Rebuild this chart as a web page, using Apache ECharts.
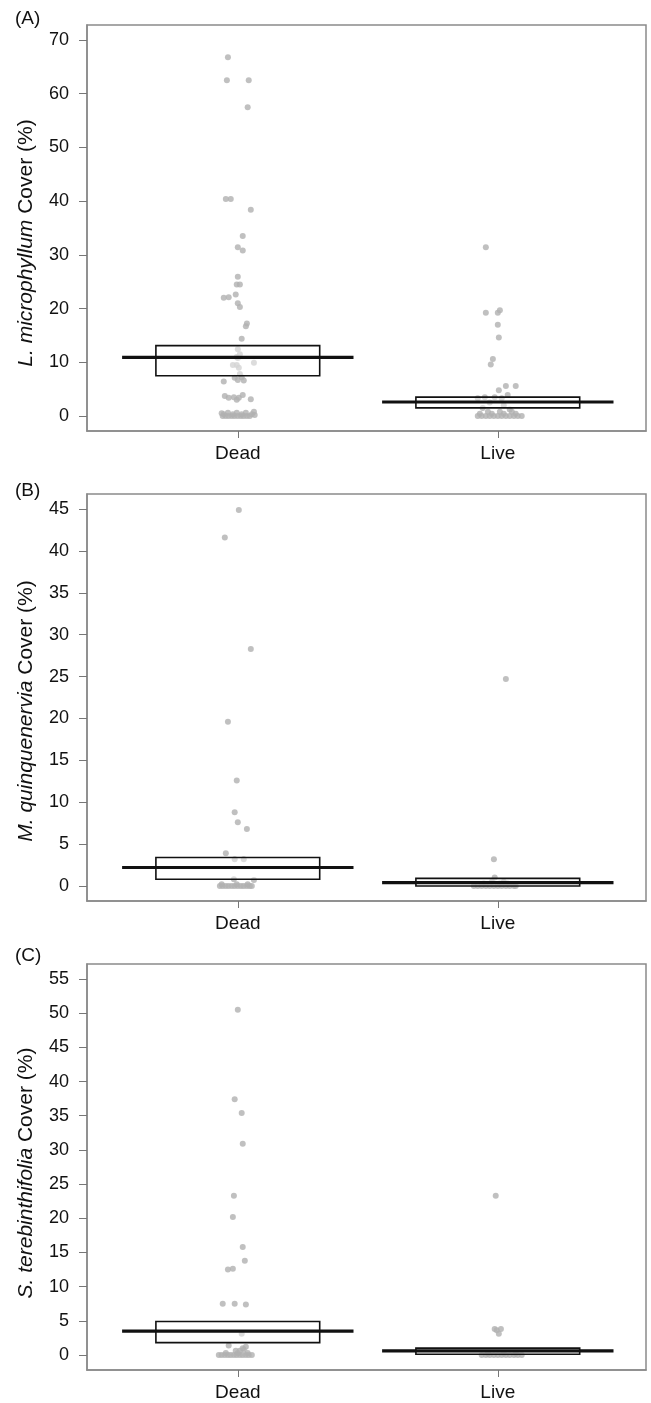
<!DOCTYPE html>
<html>
<head>
<meta charset="utf-8">
<script src="https://cdn.jsdelivr.net/npm/echarts@6/dist/echarts.min.js"></script>
<style>
  html, body { margin: 0; padding: 0; background: #fff; }
  #chart { width: 651px; height: 1403px; }
</style>
</head>
<body>
<div id="chart"></div>
<script>
// groups on the x axis (Dead = 1, Live = 2)
var groups = ["Dead", "Live"]

// (A) L. microphyllum cover (%)
var deadA = [66.8, 62.5, 62.5, 57.5, 40.4, 40.4, 38.4, 33.5, 31.4, 30.8, 25.9, 24.5, 24.5, 22.0, 22.1, 22.6, 21.0, 20.3, 17.2, 16.7, 14.4, 12.4, 11.5, 11.0, 10.8, 9.9, 9.5, 9.5, 9.0, 7.8, 7.1, 7.2, 6.7, 6.6, 6.4, 3.7, 3.4, 3.4, 3.9, 3.1, 3.0, 3.5,
  0, 0, 0, 0, 0, 0, 0, 0, 0, 0, 0.3, 0.3, 0.3, 0.3, 0.6, 0.6, 0.6, 0.8, 0.5, 0.2]
var deadAJitter = [-0.038, -0.042, 0.042, 0.038, -0.046, -0.027, 0.05, 0.019, 0, 0.019, 0, -0.004, 0.008, -0.054, -0.035, -0.008, 0, 0.008, 0.035, 0.031, 0.015, 0, 0.008, -0.004, 0, 0.062, -0.019, -0.004, 0.004, 0.008, -0.012, 0.015, 0, 0.023, -0.054, -0.05, -0.035, 0.004, 0.019, 0.05, -0.004, -0.015,
  -0.058, -0.046, -0.035, -0.023, -0.012, 0, 0.012, 0.023, 0.035, 0.046, -0.054, -0.019, 0.015, 0.054, -0.038, -0.004, 0.031, 0.062, -0.062, 0.065]
var liveA = [31.4, 19.2, 19.2, 19.7, 17.0, 14.6, 10.6, 9.6, 5.6, 5.6, 4.8, 3.9, 3.3, 3.5, 3.5, 3.3, 2.5, 2.0, 1.5, 1.2,
  0, 0, 0, 0, 0, 0, 0, 0, 0, 0, 0, 0, 0.4, 0.4, 0.4, 0.4, 0.8, 0.8, 0.8]
var liveAJitter = [-0.046, -0.046, 0, 0.008, 0, 0.004, -0.019, -0.027, 0.031, 0.069, 0.004, 0.038, -0.077, -0.05, -0.012, 0.015, -0.031, 0.023, -0.058, 0.046,
  -0.077, -0.062, -0.046, -0.031, -0.015, 0, 0.015, 0.031, 0.046, 0.062, 0.077, 0.092, -0.069, -0.023, 0.023, 0.069, -0.038, 0.008, 0.054]
// box (lower, upper) and mean line, Dead then Live
var boxA = [[7.5, 13.1], [1.5, 3.5]]
var meanA = [10.9, 2.6]

// (B) M. quinquenervia cover (%)
var deadB = [44.9, 41.6, 28.3, 19.6, 12.6, 8.8, 7.6, 6.8, 3.9, 3.2, 3.2, 0.8, 0.7,
  0, 0, 0, 0, 0, 0, 0, 0, 0, 0, 0, 0, 0.2, 0.2, 0.2]
var deadBJitter = [0.004, -0.05, 0.05, -0.038, -0.004, -0.012, 0, 0.035, -0.046, -0.012, 0.023, -0.015, 0.062,
  -0.069, -0.058, -0.046, -0.035, -0.023, -0.012, 0, 0.012, 0.023, 0.035, 0.046, 0.054, -0.062, -0.004, 0.038]
var liveB = [24.7, 3.2, 1.0,
  0, 0, 0, 0, 0, 0, 0, 0, 0, 0, 0, 0, 0.3, 0.3, 0.3, 0.5, 0.5]
var liveBJitter = [0.031, -0.015, -0.012,
  -0.092, -0.077, -0.062, -0.046, -0.031, -0.015, 0, 0.015, 0.031, 0.046, 0.062, 0.069, -0.054, 0.008, 0.038, -0.023, 0.023]
var boxB = [[0.8, 3.4], [0.0, 0.9]]
var meanB = [2.2, 0.4]

// (C) S. terebinthifolia cover (%)
var deadC = [50.5, 37.4, 35.4, 30.9, 23.3, 20.2, 15.8, 13.8, 12.5, 12.6, 7.5, 7.5, 7.4, 3.1, 1.4, 1.0, 0.6, 0.6,
  0, 0, 0, 0, 0, 0, 0, 0, 0, 0, 0, 0, 0.3, 0.3, 0.3, 0.8, 1.2]
var deadCJitter = [0, -0.012, 0.015, 0.019, -0.015, -0.019, 0.019, 0.027, -0.038, -0.019, -0.058, -0.012, 0.031, 0.015, -0.035, 0.019, -0.008, 0.008,
  -0.073, -0.062, -0.05, -0.038, -0.027, -0.015, -0.004, 0.008, 0.019, 0.031, 0.042, 0.054, -0.046, 0, 0.038, 0.023, 0.031]
var liveC = [23.3, 3.8, 3.8, 3.1, 3.6,
  0, 0, 0, 0, 0, 0, 0, 0, 0, 0, 0, 0.2, 0.2, 0.2]
var liveCJitter = [-0.008, -0.012, 0.012, 0.004, -0.004,
  -0.062, -0.046, -0.031, -0.015, 0, 0.015, 0.031, 0.046, 0.062, 0.077, 0.092, -0.038, 0.023, 0.069]
var boxC = [[1.8, 4.9], [0.1, 1.0]]
var meanC = [3.5, 0.6]

// y axis ranges and ticks
var yMinA = -2.8, yMaxA = 72.8
var yMinB = -1.8, yMaxB = 46.8
var yMinC = -2.2, yMaxC = 57.2
var ticksA = [0, 10, 20, 30, 40, 50, 60, 70]
var ticksB = [0, 5, 10, 15, 20, 25, 30, 35, 40, 45]
var ticksC = [0, 5, 10, 15, 20, 25, 30, 35, 40, 45, 50, 55]

var panelLabels = ["(A)", "(B)", "(C)"]
var speciesNames = ["L. microphyllum", "M. quinquenervia", "S. terebinthifolia"]

var BOX_HALF = 0.315
var MEAN_HALF = 0.445
var FONT = "'Liberation Sans', Arial, sans-serif"

function points(values, jitter, g) {
  return values.map(function (v, i) { return [g + jitter[i], v] })
}

function boxSeries(idx, box) {
  return {
    type: "custom",
    xAxisIndex: idx,
    yAxisIndex: idx,
    z: 3,
    data: box.map(function (b, i) { return [i + 1, b[0], b[1]] }),
    encode: { x: 0, y: [1, 2] },
    renderItem: function (params, api) {
      var x = api.value(0)
      var p1 = api.coord([x - BOX_HALF, api.value(2)])
      var p2 = api.coord([x + BOX_HALF, api.value(1)])
      return {
        type: "rect",
        shape: { x: p1[0], y: p1[1], width: p2[0] - p1[0], height: p2[1] - p1[1] },
        style: { fill: "rgba(255,255,255,0.45)", stroke: "#111", lineWidth: 1.6 }
      }
    }
  }
}

function meanSeries(idx, mean) {
  return {
    type: "custom",
    xAxisIndex: idx,
    yAxisIndex: idx,
    z: 4,
    data: mean.map(function (m, i) { return [i + 1, m] }),
    encode: { x: 0, y: 1 },
    renderItem: function (params, api) {
      var x = api.value(0)
      var p1 = api.coord([x - MEAN_HALF, api.value(1)])
      var p2 = api.coord([x + MEAN_HALF, api.value(1)])
      return {
        type: "line",
        shape: { x1: p1[0], y1: p1[1], x2: p2[0], y2: p2[1] },
        style: { stroke: "#111", lineWidth: 3.2 }
      }
    }
  }
}

function scatterSeries(idx, data) {
  return {
    type: "scatter",
    xAxisIndex: idx,
    yAxisIndex: idx,
    z: 2,
    symbolSize: 6,
    itemStyle: { color: "#b0b0b0" },
    data: data
  }
}

function xAxis(idx) {
  return {
    gridIndex: idx,
    type: "value",
    min: 0.42,
    max: 2.57,
    splitLine: { show: false },
    axisLine: { show: true, onZero: false, lineStyle: { color: "#8a8a8a", width: 1.5 } },
    axisTick: { length: 7, lineStyle: { color: "#777" }, customValues: [1, 2] },
    axisLabel: {
      customValues: [1, 2],
      margin: 13,
      color: "#111",
      fontSize: 19,
      fontFamily: FONT,
      formatter: function (v) { return groups[Math.round(v) - 1] || "" }
    }
  }
}

function yAxis(idx, min, max, ticks) {
  return {
    gridIndex: idx,
    type: "value",
    min: min,
    max: max,
    splitLine: { show: false },
    axisLine: { show: true, onZero: false, lineStyle: { color: "#8a8a8a", width: 1.5 } },
    axisTick: { length: 8, lineStyle: { color: "#777" }, customValues: ticks },
    axisLabel: {
      customValues: ticks,
      margin: 18,
      color: "#111",
      fontSize: 18,
      fontFamily: FONT
    }
  }
}

// rotated y titles, centred where the reference puts them
function yTitle(idx, cy) {
  return {
    type: "text",
    x: 26,
    y: cy,
    rotation: Math.PI / 2,
    style: {
      text: "{i|" + speciesNames[idx] + "}{n| Cover (%)}",
      align: "center",
      verticalAlign: "middle",
      rich: {
        i: { fontStyle: "italic", fontSize: 21, fontFamily: FONT, fill: "#111" },
        n: { fontSize: 21, fontFamily: FONT, fill: "#111" }
      }
    }
  }
}

var chart = echarts.init(document.getElementById("chart"))
var option = {
  backgroundColor: "#fff",
  animation: false,
  grid: [
    { left: 87, top: 25, width: 559, height: 406, show: true, borderColor: "#8a8a8a", borderWidth: 1.5 },
    { left: 87, top: 494, width: 559, height: 407, show: true, borderColor: "#8a8a8a", borderWidth: 1.5 },
    { left: 87, top: 964, width: 559, height: 406, show: true, borderColor: "#8a8a8a", borderWidth: 1.5 }
  ],
  xAxis: [xAxis(0), xAxis(1), xAxis(2)],
  yAxis: [
    yAxis(0, yMinA, yMaxA, ticksA),
    yAxis(1, yMinB, yMaxB, ticksB),
    yAxis(2, yMinC, yMaxC, ticksC)
  ],
  graphic: [
    { type: "text", left: 15, top: 9, style: { text: panelLabels[0], fontSize: 19, fontFamily: FONT, fill: "#111" } },
    { type: "text", left: 15, top: 481, style: { text: panelLabels[1], fontSize: 19, fontFamily: FONT, fill: "#111" } },
    { type: "text", left: 15, top: 946, style: { text: panelLabels[2], fontSize: 19, fontFamily: FONT, fill: "#111" } },
    yTitle(0, 243),
    yTitle(1, 711),
    yTitle(2, 1173)
  ],
  series: [
    scatterSeries(0, points(deadA, deadAJitter, 1).concat(points(liveA, liveAJitter, 2))),
    boxSeries(0, boxA),
    meanSeries(0, meanA),
    scatterSeries(1, points(deadB, deadBJitter, 1).concat(points(liveB, liveBJitter, 2))),
    boxSeries(1, boxB),
    meanSeries(1, meanB),
    scatterSeries(2, points(deadC, deadCJitter, 1).concat(points(liveC, liveCJitter, 2))),
    boxSeries(2, boxC),
    meanSeries(2, meanC)
  ]
}
chart.setOption(option)
</script>
</body>
</html>
